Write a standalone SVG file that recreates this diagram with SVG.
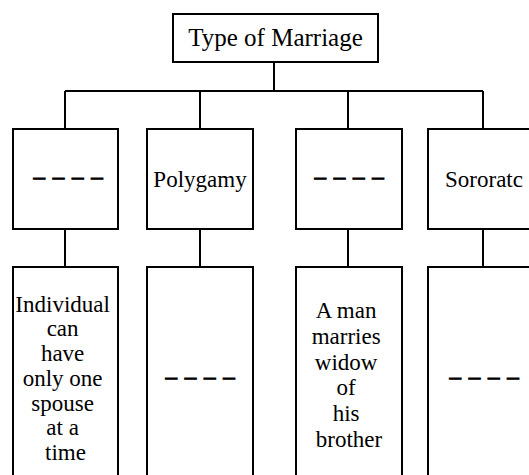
<svg xmlns="http://www.w3.org/2000/svg" width="529" height="475" viewBox="0 0 529 475">
<style>
  .box { fill: #fff; stroke: #000; stroke-width: 2; }
  .conn { fill: none; stroke: #000; stroke-width: 2; }
  .t { fill: #000; text-anchor: middle; }
  .title { font-size: 25px; }
  .lbl { font-size: 23px; }
  .dash { font-size: 23px; stroke: #000; stroke-width: 1; word-spacing: 2px; }
</style>
<rect width="529" height="475" fill="#fff"/>
<g id="connectors">
  <path class="conn" d="M274 62 V91 M65 91 H483 M65 91 V129 M200 91 V129 M348 91 V129 M483 91 V129"/>
  <path class="conn" d="M65 229 V267 M200 229 V267 M348 229 V267 M483 229 V267"/>
</g>
<g font-family="Liberation Serif, Times New Roman, serif">
<g id="root">
  <rect class="box" x="173" y="14" width="205" height="48"/>
  <text class="t title" x="275.5" y="46">Type of Marriage</text>
</g>
<g id="monogamy">
  <rect class="box" x="13" y="129" width="105" height="100"/>
  <text class="t dash" x="68" y="184">– – – –</text>
</g>
<g id="polygamy">
  <rect class="box" x="147" y="129" width="106" height="100"/>
  <text class="t lbl" x="200" y="187">Polygamy</text>
</g>
<g id="levirate">
  <rect class="box" x="296" y="129" width="106" height="100"/>
  <text class="t dash" x="349" y="184">– – – –</text>
</g>
<g id="sororate">
  <rect class="box" x="428" y="129" width="106" height="100"/>
  <text class="t lbl" x="484" y="187">Sororatc</text>
</g>
<g id="monogamy-desc">
  <rect class="box" x="13" y="267" width="105" height="215"/>
  <text class="t lbl">
    <tspan x="65.5" y="311.7">Individual</tspan>
    <tspan x="65.5" y="336.4">can</tspan>
    <tspan x="65.5" y="361">have</tspan>
    <tspan x="65.5" y="385.8">only one</tspan>
    <tspan x="65.5" y="410.5">spouse</tspan>
    <tspan x="65.5" y="435">at a</tspan>
    <tspan x="65.5" y="460">time</tspan>
  </text>
</g>
<g id="polygamy-desc">
  <rect class="box" x="147" y="267" width="106" height="215"/>
  <text class="t dash" x="200" y="384">– – – –</text>
</g>
<g id="levirate-desc">
  <rect class="box" x="296" y="267" width="106" height="215"/>
  <text class="t lbl">
    <tspan x="349" y="318.3">A man</tspan>
    <tspan x="349" y="344">marries</tspan>
    <tspan x="349" y="369.7">widow</tspan>
    <tspan x="349" y="395.4">of</tspan>
    <tspan x="349" y="421">his</tspan>
    <tspan x="349" y="446.8">brother</tspan>
  </text>
</g>
<g id="sororate-desc">
  <rect class="box" x="428" y="267" width="106" height="215"/>
  <text class="t dash" x="484" y="384">– – – –</text>
</g>
</g>
</svg>
